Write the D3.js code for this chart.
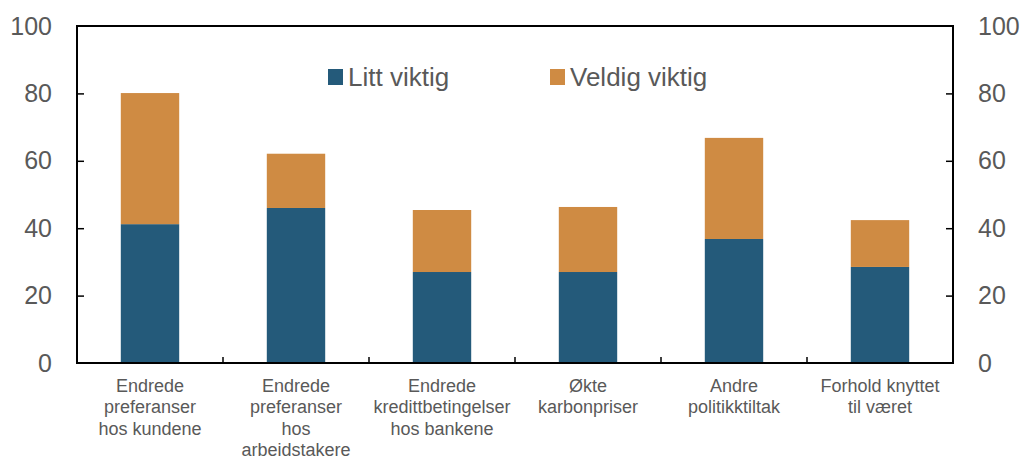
<!DOCTYPE html>
<html>
<head>
<meta charset="utf-8">
<script src="https://cdn.jsdelivr.net/npm/d3@7"></script>
<style>
  body { margin: 0; background: #fff; }
  svg text { font-family: "Liberation Sans", Arial, sans-serif; fill: #595959; }
</style>
</head>
<body>
<div id="chart"></div>
<script>
// chart data
var categories = [
  ["Endrede", "preferanser", "hos kundene"],
  ["Endrede", "preferanser", "hos", "arbeidstakere"],
  ["Endrede", "kredittbetingelser", "hos bankene"],
  ["Økte", "karbonpriser"],
  ["Andre", "politikktiltak"],
  ["Forhold knyttet", "til været"]
];
var littViktig = [41.2, 46.0, 27.0, 27.0, 36.8, 28.5];
var veldigViktig = [38.9, 16.1, 18.4, 19.3, 30.0, 13.9];
var seriesNames = ["Litt viktig", "Veldig viktig"];
var colors = ["#245a7a", "#cf8b43"];
var yTicks = [0, 20, 40, 60, 80, 100];

var svgWidth = 1022, svgHeight = 457;
var margin = { top: 26, right: 69, bottom: 94, left: 77 };
var width = svgWidth - margin.left - margin.right;
var height = svgHeight - margin.top - margin.bottom;

var svg = d3.select("#chart")
  .append("svg")
  .attr("width", svgWidth)
  .attr("height", svgHeight);

var chartGroup = svg.append("g")
  .attr("transform", `translate(${margin.left}, ${margin.top})`);

var rows = categories.map(function(c, i) {
  return { idx: i, litt: littViktig[i], veldig: veldigViktig[i] };
});

var xScale = d3.scaleBand()
  .domain(d3.range(categories.length))
  .range([0, width])
  .paddingInner(0.6)
  .paddingOuter(0.3);

var yScale = d3.scaleLinear()
  .domain([0, 100])
  .range([height, 0]);

var stack = d3.stack().keys(["litt", "veldig"]);
var layers = stack(rows);

// bars
chartGroup.selectAll("g.layer")
  .data(layers)
  .enter()
  .append("g")
  .attr("class", "layer")
  .attr("fill", (d, i) => colors[i])
  .selectAll("rect")
  .data(d => d)
  .enter()
  .append("rect")
  .attr("x", d => xScale(d.data.idx))
  .attr("width", xScale.bandwidth())
  .attr("y", d => yScale(d[1]))
  .attr("height", d => yScale(d[0]) - yScale(d[1]));

// axes
var leftAxis = d3.axisLeft(yScale).tickValues(yTicks).tickSize(-7).tickPadding(25);
var rightAxis = d3.axisRight(yScale).tickValues(yTicks).tickSize(-7).tickPadding(25);

var gl = chartGroup.append("g").call(leftAxis);
var gr = chartGroup.append("g").attr("transform", `translate(${width}, 0)`).call(rightAxis);
[gl, gr].forEach(function(g) {
  g.select(".domain").remove();
  g.selectAll("line").attr("stroke", "#000").attr("stroke-width", 1.5);
  g.selectAll("text").style("font-size", "25px").style("fill", "#595959");
  g.selectAll(".tick").filter(d => d === 0 || d === 100).select("line").remove();
});

// frame lines
chartGroup.append("line")
  .attr("x1", 0).attr("x2", 0).attr("y1", 0).attr("y2", height)
  .attr("stroke", "#000").attr("stroke-width", 2);
chartGroup.append("line")
  .attr("x1", width).attr("x2", width).attr("y1", 0).attr("y2", height)
  .attr("stroke", "#000").attr("stroke-width", 2);
chartGroup.append("line")
  .attr("x1", -1).attr("x2", width + 1).attr("y1", 0).attr("y2", 0)
  .attr("stroke", "#000").attr("stroke-width", 2);

// bottom axis with ticks between categories
var step = width / categories.length;
chartGroup.append("g")
  .selectAll("line")
  .data(d3.range(1, categories.length))
  .enter()
  .append("line")
  .attr("x1", d => d * step).attr("x2", d => d * step)
  .attr("y1", height).attr("y2", height - 6)
  .attr("stroke", "#000").attr("stroke-width", 1.5);
chartGroup.append("line")
  .attr("x1", -1).attr("x2", width + 1).attr("y1", height).attr("y2", height)
  .attr("stroke", "#000").attr("stroke-width", 2);

// category labels
var labels = chartGroup.selectAll("text.cat")
  .data(categories)
  .enter()
  .append("text")
  .attr("class", "cat")
  .attr("text-anchor", "middle")
  .style("font-size", "18px")
  .attr("transform", (d, i) => `translate(${xScale(i) + xScale.bandwidth() / 2}, ${height + 29})`);
labels.selectAll("tspan")
  .data(d => d)
  .enter()
  .append("tspan")
  .attr("x", 0)
  .attr("y", (d, i) => i * 21.3)
  .text(d => d);

// legend
var legendPos = [[251, 271], [473, 493]];
seriesNames.forEach(function(name, i) {
  chartGroup.append("rect")
    .attr("x", legendPos[i][0]).attr("y", 43)
    .attr("width", 15).attr("height", 16)
    .attr("fill", colors[i]);
  chartGroup.append("text")
    .attr("x", legendPos[i][1]).attr("y", 60)
    .style("font-size", "26px")
    .text(name);
});
</script>
</body>
</html>
